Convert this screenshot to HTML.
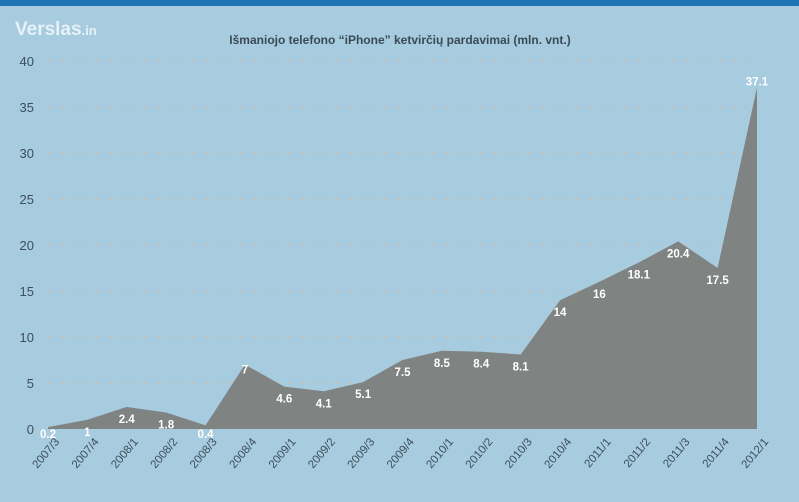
<!DOCTYPE html>
<html><head><meta charset="utf-8"><style>
body{margin:0;width:799px;height:497px;overflow:hidden;background:#a7cbdf;font-family:"Liberation Sans",sans-serif}
</style></head><body>
<svg width="799" height="497" xmlns="http://www.w3.org/2000/svg">
<rect x="0" y="0" width="799" height="6" fill="#1f74b4"/>
<text x="15" y="35" font-size="19" font-weight="bold" fill="#e6f2f8">Verslas<tspan font-size="13">.in</tspan></text>
<text x="400" y="44" text-anchor="middle" font-size="12" font-weight="bold" fill="#3a4a55">Išmaniojo telefono “iPhone” ketvirčių pardavimai (mln. vnt.)</text>
<g id="grid"></g><g id="area"></g><g id="labels"></g><g id="xt"></g>
</svg>
<script>
const categories=["2007/3","2007/4","2008/1","2008/2","2008/3","2008/4","2009/1","2009/2","2009/3","2009/4","2010/1","2010/2","2010/3","2010/4","2011/1","2011/2","2011/3","2011/4","2012/1"];
const values=[0.2,1,2.4,1.8,0.4,7,4.6,4.1,5.1,7.5,8.5,8.4,8.1,14,16,18.1,20.4,17.5,37.1];
const labels=["0.2","1","2.4","1.8","0.4","7","4.6","4.1","5.1","7.5","8.5","8.4","8.1","14","16","18.1","20.4","17.5","37.1"];
const yTicks=[0,5,10,15,20,25,30,35,40];
const NS="http://www.w3.org/2000/svg";
const x0=48,x1=757,y0=429,yTop=61,yMax=40;
const xs=i=>x0+i*(x1-x0)/(categories.length-1);
const ys=v=>y0-(v/yMax)*(y0-yTop);
function mk(t,a,p){const e=document.createElementNS(NS,t);for(const k in a)e.setAttribute(k,a[k]);p.appendChild(e);return e;}
const grid=document.getElementById('grid');
yTicks.forEach(v=>{
 if(v>0){const l=mk('line',{x1:48,x2:752,y1:ys(v),y2:ys(v),stroke:'#c4c0bb','stroke-width':1.2,'stroke-dasharray':'4 8'},grid);
 
 }
 const t=mk('text',{x:34,y:ys(v)+5,'text-anchor':'end','font-size':13,fill:'#3c4f5c'},grid);
 t.textContent=v;
 
 
});
let d='M'+xs(0)+','+y0;
values.forEach((v,i)=>{d+=' L'+xs(i)+','+ys(v);});
d+=' L'+xs(values.length-1)+','+y0+' Z';
const a=mk('path',{d:d,fill:'#7f8381'},document.getElementById('area'));


const lg=document.getElementById('labels');
values.forEach((v,i)=>{
 let yy=ys(v)+16; if(yy>438)yy=438; if(i==values.length-1)yy=ys(v)-2; if(i==5)yy=ys(v)+9;
 const t=mk('text',{x:xs(i),y:yy,'text-anchor':'middle','font-size':11.5,'font-weight':'bold',fill:'#fff'},lg);
 t.textContent=labels[i];
 
 
});
const xt=document.getElementById('xt');
categories.forEach((c,i)=>{
 const t=mk('text',{x:xs(i)+12,y:442,'text-anchor':'end','font-size':11.5,fill:'#3c4f5c',transform:'rotate(-50 '+(xs(i)+12)+' 442)'},xt);
 t.textContent=c;
 
 
});
</script>
</body></html>
